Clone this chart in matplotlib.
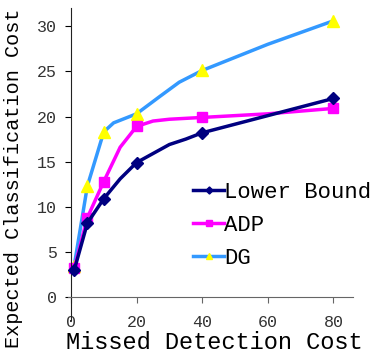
import numpy as np
import matplotlib
matplotlib.use('Agg')
import matplotlib.pyplot as plt

plt.rcParams['font.family'] = ['Liberation Mono', 'DejaVu Sans Mono']

# Werte (Marker nur an x = 1, 5, 10, 20, 40, 80)
lb_x = [1, 5, 10, 15, 20, 25, 30, 35, 40, 60, 80]
lb_y = [3.0, 8.2, 10.9, 13.1, 14.9, 15.9, 16.9, 17.5, 18.2, 20.1, 22.0]
lb_mark = [0, 1, 2, 4, 8, 10]

adp_x = [1, 5, 10, 15, 20, 25, 30, 40, 60, 80]
adp_y = [3.2, 8.8, 12.8, 16.6, 18.9, 19.5, 19.7, 19.9, 20.3, 20.9]
adp_mark = [0, 1, 2, 4, 7, 9]

dg_x = [1, 5, 10, 13, 20, 27, 33, 40, 60, 80]
dg_y = [3.5, 12.3, 18.3, 19.3, 20.3, 22.2, 23.8, 25.1, 28.0, 30.6]
dg_mark = [0, 1, 2, 4, 7, 9]

fig = plt.figure(figsize=(3.76, 3.56), dpi=100)
ax = fig.add_axes([0.180, 0.102, 0.759, 0.875])

ax.plot(lb_x, lb_y, color='#000080', linewidth=2.5, marker='D', markersize=6,
        markevery=lb_mark, label='Lower Bound', zorder=3)
ax.plot(adp_x, adp_y, color='#ff00ff', linewidth=2.5, marker='s', markersize=7,
        markevery=adp_mark, label='ADP', zorder=2)
ax.plot(dg_x, dg_y, color='#3399ff', linewidth=2.5, marker='^', markersize=8,
        markerfacecolor='#ffff00', markeredgecolor='#ffff00',
        markevery=dg_mark, label='DG', zorder=1)

ax.set_xlim(-1, 86)
ax.set_ylim(-2.5, 32)
ax.spines['top'].set_visible(False)
ax.spines['right'].set_visible(False)
ax.spines['bottom'].set_position(('data', 0))
ax.spines['left'].set_position(('data', 0))
ax.spines['bottom'].set_color('#666666')
ax.spines['left'].set_color('#222222')

ax.set_xticks([0, 20, 40, 60, 80])
ax.set_yticks([0, 5, 10, 15, 20, 25, 30])
ax.tick_params(axis='x', direction='out', length=4, pad=9, labelsize=12,
               colors='#666666', labelcolor='#333333')
ax.tick_params(axis='y', direction='out', length=4, pad=6, labelsize=12,
               labelcolor='#333333')

fig.text(0.57, 0.005, 'Missed Detection Cost', fontsize=17, ha='center', va='bottom')
fig.text(0.01, 0.5, 'Expected Classification Cost', fontsize=14.5, rotation=90,
         ha='left', va='center')

leg = ax.legend(loc='upper left', bbox_to_anchor=(0.49, 0.515), bbox_transform=fig.transFigure,
                frameon=False, fontsize=16, handlelength=1.4, handletextpad=0.0,
                labelspacing=0.55, markerscale=0.6, borderaxespad=0)
for h in leg.get_lines():
    h.set_linewidth(2.5)

fig.savefig('out.png', dpi=100)
